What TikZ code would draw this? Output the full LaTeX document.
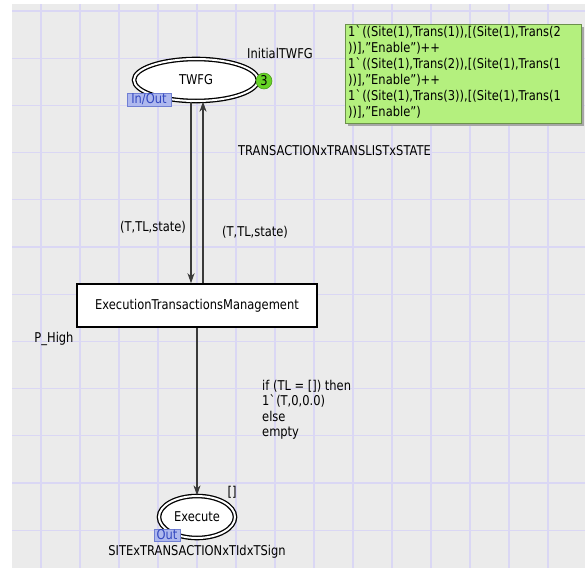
\documentclass[tikz,border=0pt]{standalone}
\usepackage{fontspec}
\setmainfont{DejaVu Sans}[FakeStretch=0.85]
\usetikzlibrary{shapes.geometric,arrows.meta}
\definecolor{bggray}{HTML}{EBEBEB}
\definecolor{gridc}{HTML}{DAD7F4}
\definecolor{tokgreen}{HTML}{66D425}
\definecolor{boxgreen}{HTML}{B4F07E}
\definecolor{portfill}{HTML}{AEB8EE}
\definecolor{porttext}{HTML}{3348C0}
\definecolor{arcgray}{HTML}{3A3A3A}
\newcommand{\bq}{\textasciigrave}
\tikzset{
  txt/.style={font=\fontsize{13.5}{15}\selectfont, inner sep=0pt},
  place/.style={ellipse, draw=black, line width=1.3pt, double=white, double distance=2pt, fill=white, inner sep=0pt, txt},
  trbox/.style={rectangle, draw=black, line width=1.5pt, fill=white, inner sep=0pt, txt},
  arc/.style={draw=arcgray, line width=1.2pt, -{Stealth[length=10pt,width=7pt,inset=3pt]}},
  port/.style={rectangle, draw=porttext!70, fill=portfill, text=porttext, line width=0.6pt, inner sep=0pt, txt},
  token/.style={circle, fill=tokgreen, draw=tokgreen!70!black, line width=0.5pt, minimum size=16pt, inner sep=0pt, txt},
  initbox/.style={rectangle, fill=boxgreen, draw=boxgreen!60!black, line width=0.6pt, inner sep=0pt}
}
\begin{document}
\begin{tikzpicture}[x=1pt,y=-1pt]
\useasboundingbox (0,0) rectangle (585,573);
\fill[white] (0,0) rectangle (585,573);
\fill[bggray] (12,4) rectangle (585,568);
\foreach \k in {0,...,13} {
  \draw[gridc, line width=1.1pt] ({41+39*\k},4) -- ({41+39*\k},568);
}
\foreach \k in {0,...,11} {
  \draw[gridc, line width=1.1pt] (12,{11+47.2*\k}) -- (585,{11+47.2*\k});
}
% initial marking box
\fill[black!35] (348,27) rectangle (584,126);
\node[initbox, minimum width=236pt, minimum height=99pt] (initm) at (463,73.5) {};
\node[txt, anchor=north west, align=left, font=\fontsize{13.5}{16}\selectfont] (initmtext) at (348,25.5)
{1\bq((Site(1),Trans(1)),[(Site(1),Trans(2\\
))],"Enable")++\\
1\bq((Site(1),Trans(2)),[(Site(1),Trans(1\\
))],"Enable")++\\
1\bq((Site(1),Trans(3)),[(Site(1),Trans(1\\
))],"Enable")};
% places and transition
\node[place, minimum width=124pt, minimum height=42pt] (twfg) at (196,80) {TWFG};
\node[trbox, minimum width=240pt, minimum height=43pt] (trans) at (197,305.5) {ExecutionTransactionsManagement};
\node[place, minimum width=76pt, minimum height=42pt] (exec) at (197,517) {Execute};
% arcs
\draw[arc] ([xshift=-5pt]twfg.south) -- ([xshift=-6pt]trans.north);
\draw[arc] ([xshift=6pt]trans.north) -- ([xshift=7pt]twfg.south);
\draw[arc] (trans.south) -- (exec.north);
% decorations
\node[token] (tok) at (264,81) {3};
\node[port, minimum width=44pt, minimum height=13pt] (io) at (149,99.5) {In/Out};
\node[port, minimum width=26pt, minimum height=12pt] (outp) at (167,535) {Out};
% labels
\node[txt] (initlbl) at (280,53) {InitialTWFG};
\node[txt, anchor=west] (typelbl) at (238,151) {TRANSACTIONxTRANSLISTxSTATE};
\node[txt] (inscl) at (153,227) {(T,TL,state)};
\node[txt] (inscr) at (255,232) {(T,TL,state)};
\node[txt] (prio) at (54,339) {P\_High};
\node[txt, anchor=north west, align=left, font=\fontsize{13.5}{15.3}\selectfont] (inscb) at (262,380)
{if (TL = []) then\\ 1\bq(T,0,0.0)\\ else\\ empty};
\node[txt] (execinit) at (232,492) {[]};
\node[txt] (exectype) at (197,552) {SITExTRANSACTIONxTIdxTSign};
\end{tikzpicture}
\end{document}
